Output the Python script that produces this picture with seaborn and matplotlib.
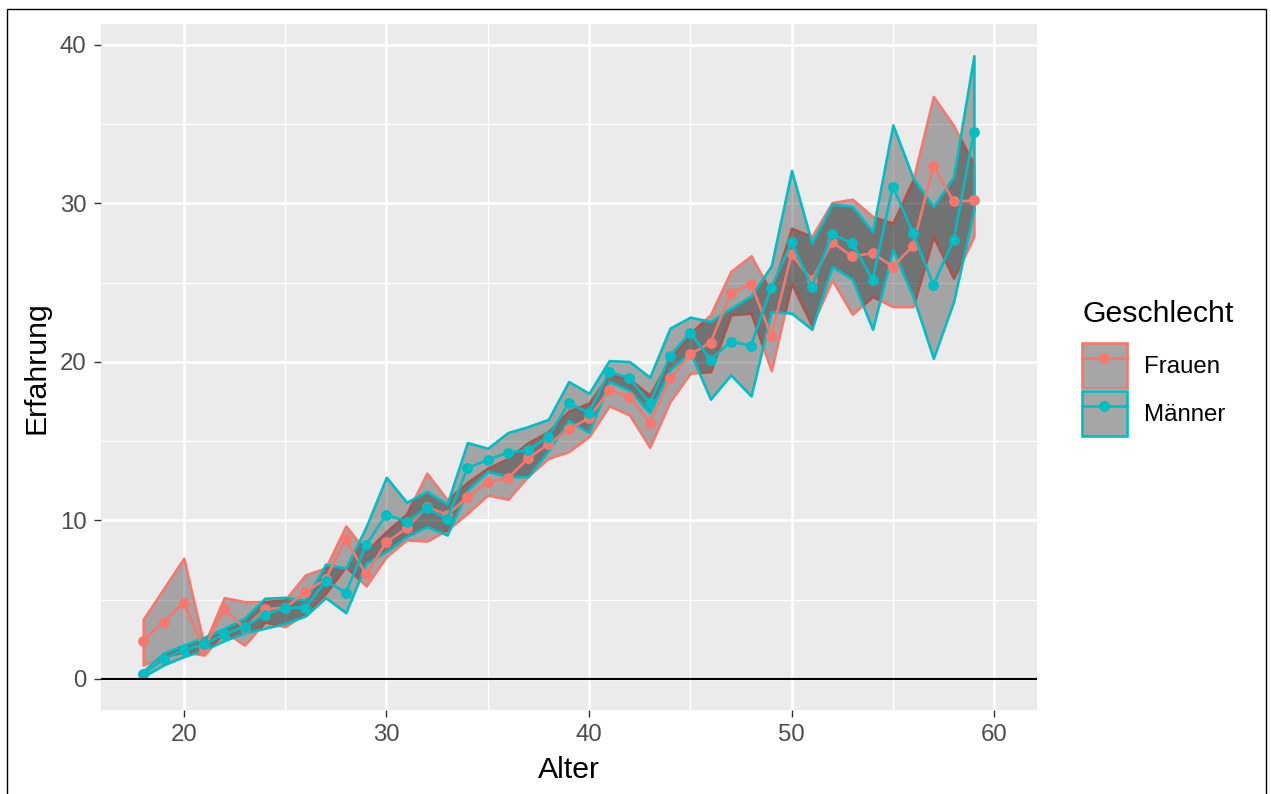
import matplotlib
matplotlib.use("Agg")
import matplotlib.pyplot as plt
import seaborn as sns
import numpy as np
import pandas as pd
from matplotlib.patches import Patch, Rectangle
from matplotlib.lines import Line2D

plt.rcParams['font.family'] = ['Liberation Sans', 'DejaVu Sans']

# ---- data ----
alter = list(range(18, 60))

frauen_mean = [2.40, 3.6, 4.82, 1.9, 4.42, 3.2, 4.4, 4.5, 5.47, 6.3,
               8.81, 6.6, 8.63, 9.5, 10.87, 10.35, 11.46, 12.45, 12.66, 13.92,
               14.8, 15.75, 16.45, 18.23, 17.81, 16.17, 18.97, 20.48, 21.22, 24.33,
               24.92, 21.64, 26.79, 25.15, 27.55, 26.65, 26.86, 26.01, 27.32, 32.37,
               30.12, 30.18]
frauen_lo = [0.88, 1.4, 1.72, 1.51, 3.0, 2.14, 3.6, 3.3, 4.14, 5.4,
             7.09, 5.87, 7.72, 8.77, 8.7, 9.4, 10.45, 11.6, 11.34, 12.8,
             13.92, 14.34, 15.29, 17.22, 16.66, 14.62, 17.5, 19.29, 19.39, 22.97,
             23.07, 19.45, 24.96, 22.3, 25.17, 23.01, 24.12, 23.49, 23.49, 27.91,
             25.28, 27.91]
frauen_hi = [3.77, 5.68, 7.61, 2.14, 5.13, 4.88, 4.88, 4.98, 6.56, 7.0,
             9.65, 8.03, 9.29, 10.4, 12.98, 11.3, 12.4, 13.3, 13.9, 14.9,
             15.6, 16.9, 17.4, 19.2, 18.9, 17.9, 20.2, 21.8, 22.97, 25.7,
             26.69, 24.33, 28.43, 27.9, 30.05, 30.26, 29.17, 28.75, 31.48, 36.74,
             34.89, 32.43]

maenner_mean = [0.32, 1.24, 1.83, 2.2, 2.82, 3.3, 4.06, 4.5, 4.5, 6.18,
                5.45, 8.45, 10.37, 9.93, 10.77, 10.07, 13.29, 13.82, 14.28, 14.43,
                15.29, 17.39, 16.8, 19.39, 18.97, 17.39, 20.38, 21.85, 20.13, 21.28,
                21.03, 24.69, 27.53, 24.75, 28.05, 27.49, 25.17, 31.06, 28.12, 24.86,
                27.7, 34.47]
maenner_lo = [0.15, 0.88, 1.41, 1.83, 2.42, 2.9, 3.2, 3.5, 3.97, 5.13,
              4.18, 7.3, 8.03, 8.98, 9.61, 9.08, 11.9, 13.08, 12.77, 12.76,
              14.4, 16.3, 15.54, 18.76, 18.2, 16.8, 19.5, 20.6, 17.65, 19.18,
              17.85, 23.18, 23.07, 22.06, 26.01, 25.22, 22.06, 27.07, 24.12, 20.23,
              23.81, 29.59]
maenner_hi = [0.5, 1.63, 2.14, 2.63, 3.2, 3.84, 5.09, 5.15, 4.98, 7.23,
              6.98, 9.6, 12.72, 11.15, 11.82, 11.04, 14.91, 14.55, 15.54, 15.92,
              16.38, 18.76, 18.02, 20.08, 20.02, 19.03, 22.13, 22.82, 22.55, 23.38,
              24.16, 26.06, 32.07, 27.49, 29.97, 29.8, 28.22, 34.95, 31.59, 29.8,
              31.69, 39.31]

gruppen = ['Frauen', 'Männer']
farben = {'Frauen': '#F8766D', 'Männer': '#00BFC4'}

df = pd.DataFrame({
    'Alter': alter + alter,
    'Erfahrung': frauen_mean + maenner_mean,
    'lo': frauen_lo + maenner_lo,
    'hi': frauen_hi + maenner_hi,
    'Geschlecht': ['Frauen'] * len(alter) + ['Männer'] * len(alter),
})

# ---- figure ----
fig = plt.figure(figsize=(12.71, 7.94), dpi=100)
fig.patch.set_facecolor('white')
ax = fig.add_axes([100.7 / 1271, 1 - 710.2 / 794, (1036.7 - 100.7) / 1271, (710.2 - 24.5) / 794])
ax.set_facecolor('#EBEBEB')

# ribbons
for g in gruppen:
    sub = df[df['Geschlecht'] == g]
    ax.fill_between(sub['Alter'], sub['lo'], sub['hi'], facecolor=(0, 0, 0, 0.3),
                    edgecolor=farben[g], linewidth=1.9, zorder=2)

# mean lines with points
sns.lineplot(data=df, x='Alter', y='Erfahrung', hue='Geschlecht', palette=farben,
             hue_order=gruppen, marker='o', markersize=7.8, markeredgewidth=0,
             linewidth=1.9, errorbar=None, legend=False, ax=ax, zorder=3)

ax.axhline(0, color='black', linewidth=1.5, zorder=4)

ax.set_xlim(15.9, 62.1)
ax.set_ylim(-1.97, 41.28)
ax.set_xticks([20, 30, 40, 50, 60])
ax.set_xticks([25, 35, 45, 55], minor=True)
ax.set_yticks([0, 10, 20, 30, 40])
ax.set_yticks([5, 15, 25, 35], minor=True)
ax.grid(which='major', color='white', linewidth=1.9, zorder=0)
ax.grid(which='minor', color='white', linewidth=0.95, zorder=0)
ax.set_axisbelow(True)
for s in ax.spines.values():
    s.set_visible(False)
ax.tick_params(which='major', length=5.2, width=1.0, color='#333333',
               labelsize=17.3, labelcolor='#4D4D4D', pad=5)
ax.tick_params(which='minor', length=0)

ax.set_xlabel('Alter', fontsize=21.8, color='black', labelpad=7)
ax.set_ylabel('Erfahrung', fontsize=21.8, color='black', labelpad=6.5)

# legend
handles = []
for g in gruppen:
    p = Patch(facecolor='#A6A6A6', edgecolor=farben[g], linewidth=1.9)
    l = Line2D([0], [0], color=farben[g], linewidth=1.9, marker='o', markersize=7.8,
               markeredgewidth=0)
    handles.append((p, l))
leg = ax.legend(handles, gruppen, title='Geschlecht', loc='upper left',
                bbox_to_anchor=(1082 / 1271, 1 - 300 / 794), bbox_transform=fig.transFigure,
                frameon=False, fontsize=17.3, title_fontsize=21.8, borderpad=0,
                borderaxespad=0, handlelength=1.86, handleheight=2.5,
                handletextpad=0.72, labelspacing=0.12, alignment='left')
leg._legend_box.sep = 10.8

# outer frame
fig.add_artist(Rectangle((7 / 1271, -0.02), (1266 - 7) / 1271, 1 - 9 / 794 + 0.02,
                         transform=fig.transFigure, fill=False, edgecolor='black',
                         linewidth=1.0))

fig.savefig('out.png', dpi=100)
